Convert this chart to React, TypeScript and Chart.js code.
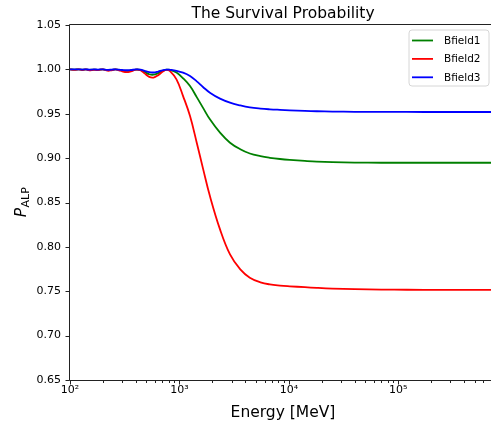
import React, { useEffect, useRef } from "react";
import { Chart, registerables } from "chart.js";

Chart.register(...registerables);

// Energy grid [MeV]
const energies = [
  100, 110, 120, 130, 140, 150, 165, 180, 200, 220,
  240, 260, 280, 300, 330, 360, 400, 440, 480, 530,
  580, 640, 700, 760, 820, 940, 1080, 1250, 1440, 1650,
  1900, 2350, 2900, 3600, 4400, 5500, 6700, 8300, 10200, 14000,
  18000, 25000, 40000, 70000, 120000, 250000, 500000, 750000,
];

// Bfield1 (green)
const bfield1 = [
  1.0, 0.9997, 1.0, 0.9996, 1.0, 0.9994, 0.9998, 0.9995, 1.0, 0.9991,
  0.9994, 1.0, 0.9994, 0.9987, 0.9982, 0.9987, 0.9998, 0.9994, 0.9972, 0.9945,
  0.994, 0.9958, 0.9982, 0.9996, 0.9995, 0.9964, 0.99, 0.9812, 0.9687, 0.9563,
  0.9437, 0.9287, 0.9174, 0.91, 0.9052, 0.9022, 0.9004, 0.899, 0.898, 0.8968,
  0.896, 0.8954, 0.895, 0.8948, 0.8948, 0.8948, 0.8948, 0.8948,
];

// Bfield2 (red)
const bfield2 = [
  1.0, 0.9995, 1.0, 0.9993, 1.0, 0.999, 0.9996, 0.9992, 1.0, 0.9985,
  0.999, 1.0, 0.999, 0.9978, 0.997, 0.9978, 0.9996, 0.999, 0.9955, 0.9915,
  0.9908, 0.9935, 0.9972, 0.9994, 0.9981, 0.9887, 0.9699, 0.9474, 0.9174, 0.8873,
  0.8572, 0.8197, 0.7915, 0.7746, 0.7653, 0.7601, 0.7577, 0.7564, 0.7556, 0.7546,
  0.7538, 0.753, 0.7523, 0.7519, 0.7517, 0.7516, 0.7515, 0.7515,
];

// Bfield3 (blue)
const bfield3 = [
  1.0, 0.9999, 1.0, 0.9998, 1.0, 0.9997, 0.9999, 0.9998, 1.0, 0.9995,
  0.9997, 1.0, 0.9997, 0.9993, 0.999, 0.9993, 0.9999, 0.9997, 0.9984, 0.9968,
  0.9965, 0.9976, 0.999, 0.9998, 0.9995, 0.9984, 0.9963, 0.9925, 0.9865, 0.9799,
  0.9737, 0.967, 0.9625, 0.9594, 0.9572, 0.9558, 0.955, 0.9544, 0.9539, 0.9532,
  0.9528, 0.9525, 0.9522, 0.9521, 0.952, 0.952, 0.952, 0.952,
];

const seriesLabels = ["Bfield1", "Bfield2", "Bfield3"];
const seriesColors = ["#008000", "#ff0000", "#0000ff"];

const yTicks = [0.65, 0.7, 0.75, 0.8, 0.85, 0.9, 0.95, 1.0, 1.05];
const xMajorTicks = [100, 1000, 10000, 100000];
const xTickLabels = ["10²", "10³", "10⁴", "10⁵"];
const xMinorTicks = [
  200, 300, 400, 500, 600, 700, 800, 900,
  2000, 3000, 4000, 5000, 6000, 7000, 8000, 9000,
  20000, 30000, 40000, 50000, 60000, 70000, 80000, 90000,
  200000, 300000, 400000, 500000, 600000, 700000,
];

const titleText = "The Survival Probability";
const xTitle = "Energy [MeV]";
const yTitleMain = "P";
const yTitleSub = "ALP";

const FONT = "'DejaVu Sans', 'Liberation Sans', sans-serif";

export default function App() {
  const ref = useRef<HTMLCanvasElement | null>(null);

  useEffect(() => {
    const canvas = ref.current;
    if (!canvas) return;

    const decor = {
      id: "decor",
      afterDraw(chart: any) {
        const ctx = chart.ctx as CanvasRenderingContext2D;
        const a = chart.chartArea;
        const xs = chart.scales.x;
        const ys = chart.scales.y;
        ctx.save();
        ctx.strokeStyle = "#222";
        ctx.lineWidth = 1;
        const L = Math.round(a.left) - 0.5;
        const B = Math.round(a.bottom) + 0.5;
        const T = Math.round(a.top) - 0.5;
        const R = Math.round(a.right) + 0.5;
        ctx.beginPath();
        ctx.moveTo(L, T);
        ctx.lineTo(L, B);
        ctx.lineTo(R, B);
        ctx.moveTo(L, T);
        ctx.lineTo(R, T);
        ctx.moveTo(R, T);
        ctx.lineTo(R, B);
        ctx.stroke();

        // x ticks
        ctx.beginPath();
        for (const v of xMajorTicks) {
          const px = Math.round(xs.getPixelForValue(v)) + 0.5;
          ctx.moveTo(px, B);
          ctx.lineTo(px, B + 4);
        }
        for (const v of xMinorTicks) {
          const px = Math.round(xs.getPixelForValue(v)) + 0.5;
          ctx.moveTo(px, B);
          ctx.lineTo(px, B + 2.5);
        }
        // y ticks
        for (const v of yTicks) {
          const py = Math.round(ys.getPixelForValue(v)) + 0.5;
          ctx.moveTo(L, py);
          ctx.lineTo(L - 4, py);
        }
        ctx.stroke();

        // title
        ctx.fillStyle = "#000";
        ctx.textAlign = "center";
        ctx.textBaseline = "alphabetic";
        ctx.font = `15.5px ${FONT}`;
        const cx = (a.left + a.right) / 2;
        ctx.fillText(titleText, cx + 1, 18);

        // x title
        ctx.font = `15.5px ${FONT}`;
        ctx.fillText(xTitle, cx + 1, 417);

        // y title (rotated)
        ctx.save();
        const cy = (a.top + a.bottom) / 2;
        ctx.translate(26, cy);
        ctx.rotate(-Math.PI / 2);
        ctx.font = `italic 15.5px ${FONT}`;
        const wP = ctx.measureText(yTitleMain).width;
        ctx.font = `11px ${FONT}`;
        const wS = ctx.measureText(yTitleSub).width;
        const start = -(wP + wS) / 2;
        ctx.textAlign = "left";
        ctx.font = `italic 15.5px ${FONT}`;
        ctx.fillText(yTitleMain, start, 0);
        ctx.font = `11px ${FONT}`;
        ctx.fillText(yTitleSub, start + wP + 0.5, 3);
        ctx.restore();

        // legend
        const ds = chart.data.datasets;
        const lx = 409, ly = 30, lw = 80, lh = 56;
        ctx.beginPath();
        const r = 3;
        ctx.moveTo(lx + r, ly);
        ctx.lineTo(lx + lw - r, ly);
        ctx.quadraticCurveTo(lx + lw, ly, lx + lw, ly + r);
        ctx.lineTo(lx + lw, ly + lh - r);
        ctx.quadraticCurveTo(lx + lw, ly + lh, lx + lw - r, ly + lh);
        ctx.lineTo(lx + r, ly + lh);
        ctx.quadraticCurveTo(lx, ly + lh, lx, ly + lh - r);
        ctx.lineTo(lx, ly + r);
        ctx.quadraticCurveTo(lx, ly, lx + r, ly);
        ctx.closePath();
        ctx.fillStyle = "rgba(255,255,255,0.8)";
        ctx.fill();
        ctx.strokeStyle = "#d6d6d6";
        ctx.lineWidth = 1;
        ctx.stroke();
        ctx.font = `10.5px ${FONT}`;
        ctx.textAlign = "left";
        ctx.textBaseline = "middle";
        ds.forEach((d: any, i: number) => {
          const ry = ly + 10.5 + i * 18.4;
          ctx.strokeStyle = d.borderColor;
          ctx.lineWidth = 1.8;
          ctx.beginPath();
          ctx.moveTo(lx + 3, ry);
          ctx.lineTo(lx + 24, ry);
          ctx.stroke();
          ctx.fillStyle = "#000";
          ctx.fillText(d.label, lx + 35, ry + 0.5);
        });
        ctx.restore();
      },
    };

    const makeData = (vals: number[]) => energies.map((e, i) => ({ x: e, y: vals[i] }));
    const series = [bfield1, bfield2, bfield3];

    const chart = new Chart(canvas, {
      type: "line",
      data: {
        datasets: series.map((vals, i) => ({
          label: seriesLabels[i],
          data: makeData(vals),
          borderColor: seriesColors[i],
          backgroundColor: seriesColors[i],
          borderWidth: 1.8,
          pointRadius: 0,
          fill: false,
          tension: 0.4,
          order: 3 - i,
        })),
      },
      options: {
        animation: false,
        responsive: false,
        devicePixelRatio: 1,
        layout: { padding: { left: 0, right: 3, top: 25, bottom: 0 } },
        plugins: {
          legend: { display: false },
          title: { display: false },
          tooltip: { enabled: false },
        },
        scales: {
          x: {
            type: "logarithmic",
            min: 100,
            max: 750000,
            grid: { display: false, drawTicks: false },
            border: { display: false },
            afterBuildTicks: (scale: any) => {
              scale.ticks = xMajorTicks.map((v) => ({ value: v }));
            },
            afterFit: (scale: any) => {
              scale.height = 44;
            },
            ticks: {
              autoSkip: false,
              maxRotation: 0,
              padding: 4,
              color: "#000",
              font: { family: FONT, size: 11 },
              callback: (v: any) => {
                const idx = xMajorTicks.indexOf(Number(v));
                return idx >= 0 ? xTickLabels[idx] : "";
              },
            },
          },
          y: {
            type: "linear",
            min: 0.65,
            max: 1.05,
            grid: { display: false, drawTicks: false },
            border: { display: false },
            afterBuildTicks: (scale: any) => {
              scale.ticks = yTicks.map((v) => ({ value: v }));
            },
            afterFit: (scale: any) => {
              scale.width = 70;
            },
            ticks: {
              padding: 9,
              color: "#000",
              font: { family: FONT, size: 11 },
              callback: (v: any) => Number(v).toFixed(2),
            },
          },
        },
      },
      plugins: [decor],
    });

    return () => {
      chart.destroy();
    };
  }, []);

  return (
    <div
      style={{
        position: "fixed",
        left: 0,
        top: 0,
        width: 491,
        height: 424,
        overflow: "hidden",
        background: "#fff",
      }}
    >
      <canvas
        ref={ref}
        width={497}
        height={424}
        style={{ display: "block", width: 497, height: 424 }}
      />
    </div>
  );
}
